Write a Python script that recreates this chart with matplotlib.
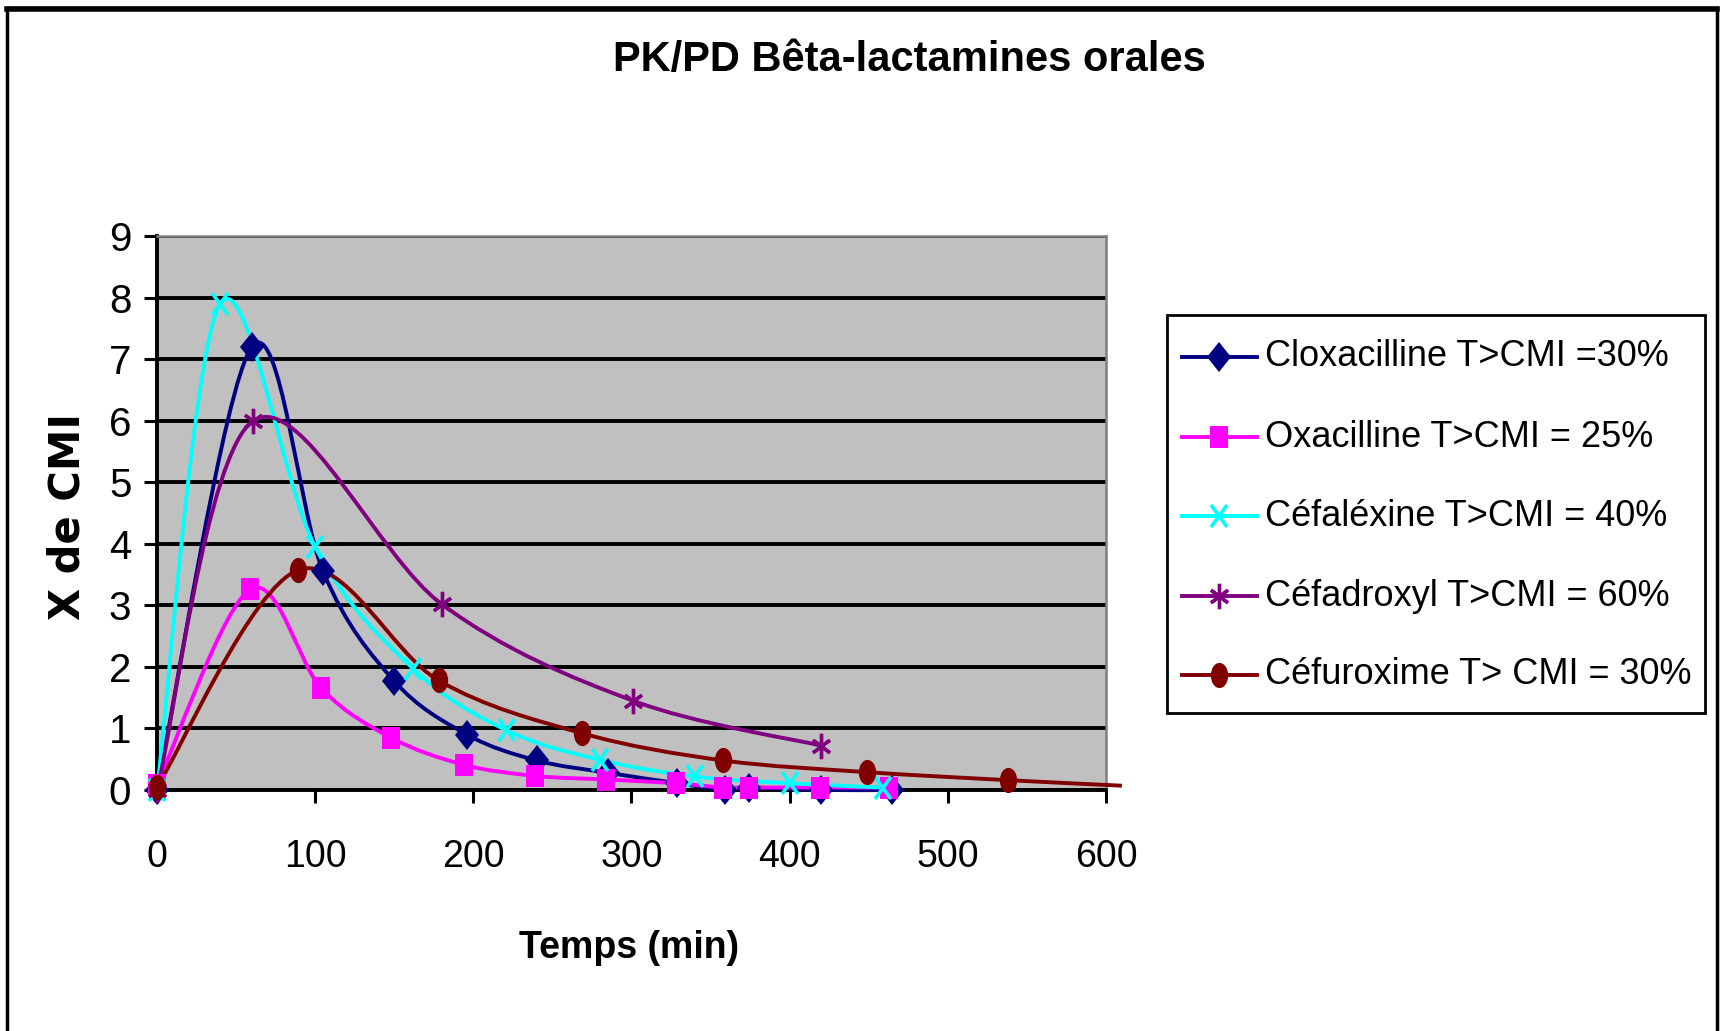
import numpy as np
import matplotlib
matplotlib.use("Agg")
import matplotlib.pyplot as plt
from matplotlib.path import Path
from matplotlib.patches import PathPatch, Rectangle
from matplotlib.lines import Line2D
from matplotlib.markers import MarkerStyle
from matplotlib.transforms import Affine2D

plt.rcParams['font.family'] = ['Liberation Sans', 'DejaVu Sans']

# valeurs (temps en min, X de CMI)
clox_t = [0, 60, 105, 150, 196, 240, 285, 329, 359, 374, 420, 465]
clox_y = [0, 7.2, 3.55, 1.77, 0.9, 0.48, 0.28, 0.11, 0.0, 0.04, 0.0, 0.0]

oxa_t = [0, 59, 104, 148, 194, 239, 284, 328, 358, 374, 419, 463]
oxa_y = [0.08, 3.26, 1.65, 0.85, 0.41, 0.23, 0.17, 0.11, 0.04, 0.04, 0.04, 0.04]

cefalex_t = [0, 40, 100, 162, 221, 280, 340, 400, 459]
cefalex_y = [0, 7.9, 3.95, 1.97, 0.97, 0.49, 0.22, 0.11, 0.04]

cefadrox_t = [0, 61, 180, 301, 420]
cefadrox_y = [0, 6.0, 3.02, 1.45, 0.72]

cefurox_t = [0, 89, 178, 269, 358, 449, 538, 610]
cefurox_y = [0.05, 3.57, 1.78, 0.92, 0.48, 0.29, 0.16, 0.07]

labels = ["Cloxacilline T>CMI =30%", "Oxacilline T>CMI = 25%",
          "Céfaléxine T>CMI = 40%", "Céfadroxyl T>CMI = 60%",
          "Céfuroxime T> CMI = 30%"]
colors = ["#000080", "#FF00FF", "#00FFFF", "#800080", "#800000"]

W, H = 1721, 1031


def fx(px):
    return px / W


def fy(py):
    return 1 - py / H


def smooth_path(x, y):
    # courbe lissée type Excel (Catmull-Rom -> Bezier)
    p = np.column_stack([x, y]).astype(float)
    n = len(p)
    verts = [p[0]]
    codes = [Path.MOVETO]
    for i in range(n - 1):
        p0 = p[max(i - 1, 0)]
        p1 = p[i]
        p2 = p[i + 1]
        p3 = p[min(i + 2, n - 1)]
        verts += [p1 + (p2 - p0) / 6, p2 - (p3 - p1) / 6, p2]
        codes += [Path.CURVE4] * 3
    return Path(verts, codes)


def mk(m, sy):
    return MarkerStyle(m, transform=Affine2D().scale(1, sy))


styles = [
    dict(marker=mk('D', 1.2), ms=12.5, mew=0),
    dict(marker=mk('s', 1.3), ms=12.5, mew=0),
    dict(marker=mk('x', 1.3), ms=12, mew=2.6),
    dict(marker=mk((6, 2, 0), 1.3), ms=14, mew=2.4),
    dict(marker=mk('o', 1.45), ms=12.5, mew=0),
]

series = [(clox_t, clox_y), (oxa_t, oxa_y), (cefalex_t, cefalex_y),
          (cefadrox_t, cefadrox_y), (cefurox_t, cefurox_y)]

fig = plt.figure(figsize=(W / 100, H / 100), dpi=100)
ax = fig.add_axes([fx(157), fy(790), fx(1106) - fx(157), fy(236) - fy(790)])
ax.set_facecolor('#C0C0C0')

for (t, y), c, st in zip(series, colors, styles):
    ax.add_patch(PathPatch(smooth_path(t, y), fill=False, edgecolor=c, lw=2.8,
                           clip_on=False, zorder=3))
    t = np.array(t)
    y = np.array(y)
    keep = t <= 600
    ax.plot(t[keep], y[keep], ls='none', color=c, mfc=c, mec=c,
            clip_on=False, zorder=4, **st)

ax.set_xlim(0, 600)
ax.set_ylim(0, 9)
ax.set_xticks(range(0, 601, 100))
ax.set_yticks(range(0, 10))
ax.grid(axis='y', color='black', lw=2.8)
ax.set_axisbelow(True)
for s in ['left', 'bottom']:
    ax.spines[s].set_color('black')
    ax.spines[s].set_linewidth(2.8)
for s in ['top', 'right']:
    ax.spines[s].set_color('#808080')
    ax.spines[s].set_linewidth(1.8)
ax.tick_params(axis='x', direction='out', length=9.5, width=2.2, labelsize=27, pad=26)
ax.tick_params(axis='y', direction='out', length=9.5, width=2.2, labelsize=29, pad=9)

fig.text(fx(909), fy(60), "PK/PD Bêta-lactamines orales", fontsize=30,
         fontweight='bold', ha='center', va='center')
fig.text(fx(629), fy(948), "Temps (min)", fontsize=27, fontweight='bold',
         ha='center', va='center')
fig.text(fx(68), fy(516), "X de CMI", fontsize=30, fontweight='bold',
         family=['DejaVu Sans'], rotation=90, ha='center', va='center')

# légende
fig.add_artist(Rectangle((fx(1167), fy(713)), fx(1705) - fx(1167), fy(315) - fy(713),
                         transform=fig.transFigure, fill=False, ec='black', lw=2.0))
rows = [357, 437, 516, 596, 675]
for r, lab, c, st in zip(rows, labels, colors, styles):
    fig.add_artist(Line2D([fx(1182), fx(1257)], [fy(r), fy(r)], transform=fig.transFigure,
                          color=c, lw=2.8))
    fig.add_artist(Line2D([fx(1219)], [fy(r)], transform=fig.transFigure, ls='none',
                          color=c, mfc=c, mec=c, **st))
    fig.text(fx(1265), fy(r), lab, fontsize=26, ha='left', va='center')

# cadre du graphique
fig.add_artist(Rectangle((fx(7), -0.05), fx(1717) - fx(7), fy(8) + 0.05,
                         transform=fig.transFigure, fill=False, ec='black', lw=2.5))
fig.add_artist(Line2D([fx(7), fx(1717)], [fy(9), fy(9)], transform=fig.transFigure,
                      color='black', lw=4))

fig.savefig('out.png', dpi=100)
